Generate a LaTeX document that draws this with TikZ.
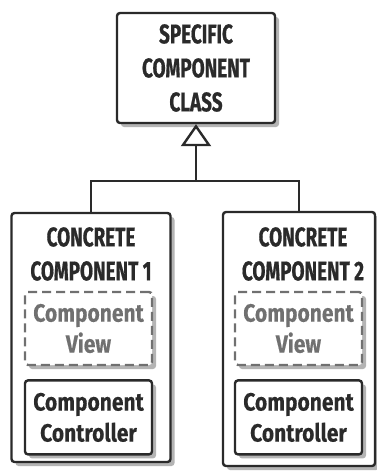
\documentclass[tikz,border=0pt]{standalone}
\usepackage{fontspec}
\setmainfont{Fira Sans}
\newfontfamily\capsfont[FakeStretch=0.70,FakeBold=0.6]{Fira Sans}
\newfontfamily\labelfont[FakeStretch=0.84,FakeBold=0.25]{Fira Sans}
\usetikzlibrary{arrows.meta,positioning,shadows}

\definecolor{inkdark}{HTML}{2A2A2A}
\definecolor{inkgray}{HTML}{707070}
\definecolor{shade}{HTML}{B4B4B4}

\begin{document}
\begin{tikzpicture}[
    x=1pt, y=-1pt,
    box/.style={rectangle, draw=inkdark, line width=2.4pt, rounded corners=3pt, fill=white,
        drop shadow={shadow xshift=4pt, shadow yshift=-4pt, fill=shade, opacity=1},
        align=center, inner sep=0pt, text=inkdark},
    bigtext/.style={font=\capsfont\bfseries\fontsize{27}{34}\selectfont},
    smalltext/.style={font=\labelfont\bfseries\fontsize{25}{31}\selectfont},
    viewbox/.style={box, draw=inkgray, text=inkgray, dash pattern=on 9pt off 5pt},
    link/.style={draw=inkdark, line width=2.4pt},
    gentip/.style={-{Triangle[open, length=22pt, width=30pt]}}
]
\useasboundingbox[fill=white] (0,0) rectangle (377,471);

% base class
\node[box, bigtext, minimum width=158pt, minimum height=110pt] (cls) at (196,68) {SPECIFIC\\COMPONENT\\CLASS};

% two concrete components
\node[box, minimum width=159pt, minimum height=249pt] (cc1) at (91,337.5) {};
\node[box, minimum width=152pt, minimum height=254pt] (cc2) at (299,339) {};

\node[bigtext, align=center, text=inkdark] (title1) at (91,254) {CONCRETE\\COMPONENT 1};
\node[bigtext, align=center, text=inkdark] (title2) at (303,254) {CONCRETE\\COMPONENT 2};

\node[viewbox, smalltext, minimum width=127pt, minimum height=73pt] (view1) at (88.5,328.5) {Component\\View};
\node[viewbox, smalltext, minimum width=127pt, minimum height=73pt] (view2) at (298.5,328.5) {Component\\View};

\node[box, smalltext, minimum width=127pt, minimum height=74pt, below=13pt of view1] (ctl1) {Component\\Controller};
\node[box, smalltext, minimum width=127pt, minimum height=74pt, below=13pt of view2] (ctl2) {Component\\Controller};

% generalization
\coordinate (hub) at (196,181);
\draw[link] (cc1.north) |- (hub) -| (cc2.north);
\draw[link, gentip] (hub) -- (cls.south);
\end{tikzpicture}
\end{document}
